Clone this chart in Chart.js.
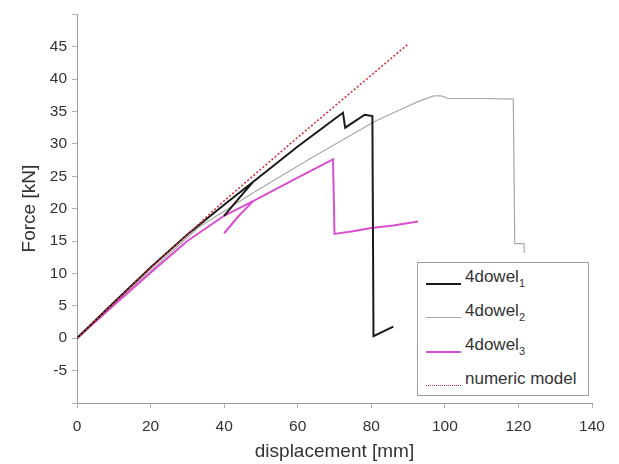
<!DOCTYPE html>
<html>
<head>
<meta charset="utf-8">
<script src="https://cdn.jsdelivr.net/npm/chart.js@4.4.1/dist/chart.umd.min.js"></script>
<style>
  body { margin: 0; background: #fff; }
  #wrap { position: relative; width: 619px; height: 464px; }
  #legend {
    position: absolute; left: 417px; top: 262px; width: 170px; height: 132px;
    border: 1px solid #a0a0a0; background: #fff;
    font-family: "Liberation Sans", Arial, sans-serif; font-size: 17px; color: #333;
  }
  .item { position: absolute; left: 0; height: 34px; width: 170px; }
  .sample { position: absolute; left: 8px; width: 35px; height: 0; }
  .label { position: absolute; left: 47px; top: 0; line-height: 17px; white-space: nowrap; }
  .label sub { font-size: 11px; vertical-align: -5px; }
</style>
</head>
<body>
<div id="wrap">
  <canvas id="myChart" width="619" height="464"></canvas>
  <div id="legend"></div>
</div>
<script>
// dữ liệu: displacement [mm] / Force [kN]; null = ngắt đoạn
var dowel1X = [0, 10, 20, 30, 40, 48, 60, 72.3, 72.9, 78.2, 80.3, 80.6, 86, 86, 40, 44, 48];
var dowel1Y = [0, 5.5, 10.9, 16, 20.6, 24.2, 29.6, 34.8, 32.5, 34.5, 34.3, 0.3, 1.8, null, 18.9, 21.6, 24.2];

var dowel2X = [0, 10, 20, 33, 48, 63, 81, 88, 93, 97, 99, 101, 110, 118.6, 119, 121.5, 121.6];
var dowel2Y = [0, 5.3, 10.4, 17.1, 22.5, 27.6, 33.5, 35.3, 36.6, 37.4, 37.4, 37.0, 37.0, 36.9, 14.6, 14.6, 13.2];

var dowel3X = [0, 10, 20, 30, 40, 48, 60, 69.6, 70, 75, 80, 86, 92.7, 92.7, 40, 44, 48];
var dowel3Y = [0, 5.1, 10.1, 15, 18.9, 21.2, 24.8, 27.6, 16.1, 16.5, 17.0, 17.4, 18.0, null, 16.2, 18.9, 21.2];

var modelX = [0, 20, 40, 60, 75, 90];
var modelY = [0, 10.8, 21.2, 31, 38.2, 45.4];

var seriesNames = ['4dowel|1', '4dowel|2', '4dowel|3', 'numeric model'];
var yTicksShown = [-5, 0, 5, 10, 15, 20, 25, 30, 35, 40, 45];

function toPoints(xs, ys) {
    var pts = [];
    for (var i = 0; i < xs.length; i++) {
        pts.push({ x: xs[i], y: ys[i] });
    }
    return pts;
}

var fontFamily = '"Liberation Sans", Arial, sans-serif';
var ctx = document.getElementById('myChart').getContext('2d');

var chart = new Chart(ctx, {
    type: 'scatter',
    data: {
        datasets: [
            {
                label: seriesNames[0], data: toPoints(dowel1X, dowel1Y),
                borderColor: '#1a1a1a', borderWidth: 2, order: 1
            },
            {
                label: seriesNames[1], data: toPoints(dowel2X, dowel2Y),
                borderColor: '#a8a8a8', borderWidth: 1.2, order: 3
            },
            {
                label: seriesNames[2], data: toPoints(dowel3X, dowel3Y),
                borderColor: '#d94fcf', borderWidth: 2, order: 2
            },
            {
                label: seriesNames[3], data: toPoints(modelX, modelY),
                borderColor: '#d0303c', borderWidth: 1.6, borderDash: [2, 2], order: 0
            }
        ]
    },
    options: {
        responsive: false,
        animation: false,
        showLine: true,
        spanGaps: false,
        elements: {
            point: { radius: 0, hoverRadius: 0 },
            line: { tension: 0, fill: false }
        },
        layout: { padding: { top: 13, right: 27, left: 0, bottom: 0 } },
        plugins: {
            legend: { display: false },
            tooltip: { enabled: false }
        },
        scales: {
            x: {
                type: 'linear',
                min: 0, max: 140,
                afterFit: function (scale) { scale.height = 61; },
                border: { display: true, color: '#a0a0a0', width: 1 },
                grid: { drawOnChartArea: false, drawTicks: true, tickLength: 5, color: '#b0b0b0' },
                ticks: {
                    stepSize: 20, padding: 9, color: '#333',
                    font: { family: fontFamily, size: 15.5 }
                },
                title: {
                    display: true, text: 'displacement [mm]', color: '#333',
                    font: { family: fontFamily, size: 19 },
                    padding: { top: 0, bottom: 1 }
                }
            },
            y: {
                type: 'linear',
                min: -10, max: 50,
                afterFit: function (scale) { scale.width = 77; },
                border: { display: true, color: '#a0a0a0', width: 1 },
                grid: { drawOnChartArea: false, drawTicks: true, tickLength: 5, color: '#b0b0b0' },
                ticks: {
                    stepSize: 5, padding: 5, color: '#333',
                    font: { family: fontFamily, size: 15.5 },
                    callback: function (v) { return yTicksShown.indexOf(v) >= 0 ? v : ''; }
                },
                title: {
                    display: true, text: 'Force [kN]', color: '#333',
                    font: { family: fontFamily, size: 19 },
                    padding: { top: 18, bottom: 0 }
                }
            }
        }
    }
});

// chú thích HTML trong khung, có chỉ số dưới
var legend = document.getElementById('legend');
chart.data.datasets.forEach(function (ds, i) {
    var item = document.createElement('div');
    item.className = 'item';
    item.style.top = (i * 34) + 'px';
    var sample = document.createElement('div');
    sample.className = 'sample';
    sample.style.top = '20px';
    var w = ds.borderWidth >= 2 ? 2 : 1;
    sample.style.borderTop = w + 'px ' + (ds.borderDash ? 'dotted' : 'solid') + ' ' + ds.borderColor;
    var label = document.createElement('div');
    label.className = 'label';
    label.style.top = '5px';
    var parts = ds.label.split('|');
    label.textContent = parts[0];
    if (parts[1]) {
        var sub = document.createElement('sub');
        sub.textContent = parts[1];
        label.appendChild(sub);
    }
    item.appendChild(sample);
    item.appendChild(label);
    legend.appendChild(item);
});
</script>
</body>
</html>
